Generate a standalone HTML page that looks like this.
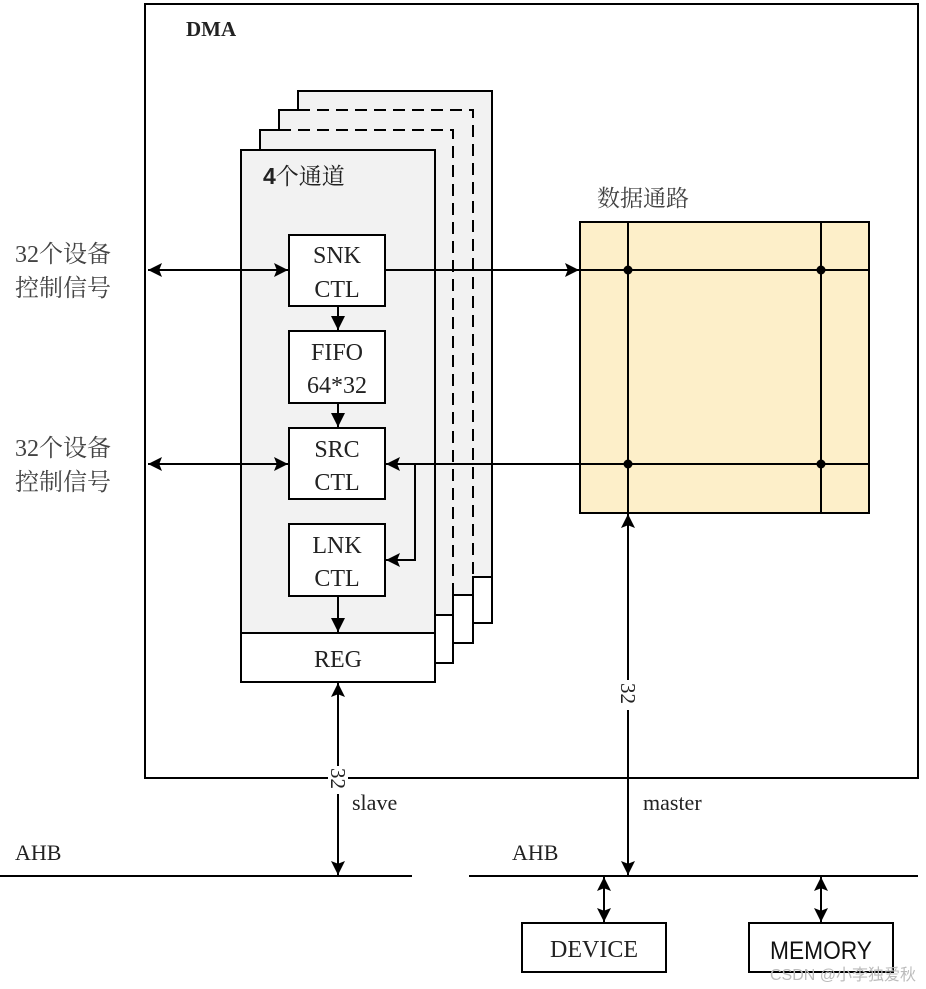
<!DOCTYPE html>
<html><head><meta charset="utf-8"><style>
html,body{margin:0;padding:0;background:#fff;width:926px;height:989px;overflow:hidden}
svg{display:block}
.s{font-family:"Liberation Serif","Noto Serif CJK SC",serif;fill:#222}
.c{font-family:"Liberation Serif","Noto Serif CJK SC",serif;fill:#444}
</style></head><body>
<svg width="926" height="989" viewBox="0 0 926 989" xmlns="http://www.w3.org/2000/svg">
<defs>
<marker id="a" viewBox="0 0 10 10" refX="10" refY="5" markerWidth="14" markerHeight="14" markerUnits="userSpaceOnUse" orient="auto-start-reverse"><path d="M0,0 L10,5 L0,10 z" fill="#000"/></marker>
<marker id="b" viewBox="0 0 10 10" refX="10" refY="5" markerWidth="16" markerHeight="14" markerUnits="userSpaceOnUse" orient="auto-start-reverse"><path d="M0,0 L10,5 L0,10 L2,5 z" fill="#000"/></marker>
</defs>
<g stroke="#000" stroke-width="2" fill="none">
<rect x="145" y="4" width="773" height="774"/>
<rect x="298" y="91" width="194" height="532" fill="#f2f2f2" stroke="none"/>
<rect x="279" y="110" width="194" height="533" fill="#f2f2f2" stroke="none"/>
<rect x="260" y="130" width="193" height="533" fill="#f2f2f2" stroke="none"/>
<path d="M298,110 V91 H492 V623 H473"/>
<rect x="473" y="577" width="19" height="46" fill="#fff"/>
<path d="M279,130 V110 H298"/>
<path d="M298,110 H473 V577" stroke-dasharray="12,7"/>
<rect x="453" y="595" width="20" height="48" fill="#fff"/>
<path d="M260,150 V130 H279"/>
<path d="M279,130 H453 V595" stroke-dasharray="12,7"/>
<rect x="435" y="615" width="18" height="48" fill="#fff"/>
<rect x="241" y="150" width="194" height="483" fill="#f2f2f2"/>
<rect x="241" y="633" width="194" height="49" fill="#fff"/>
<rect x="289" y="235" width="96" height="71" fill="#fff"/>
<rect x="289" y="331" width="96" height="72" fill="#fff"/>
<rect x="289" y="428" width="96" height="71" fill="#fff"/>
<rect x="289" y="524" width="96" height="72" fill="#fff"/>
<rect x="580" y="222" width="289" height="291" fill="#fdefc9"/>
<line x1="628" y1="222" x2="628" y2="513"/>
<line x1="821" y1="222" x2="821" y2="513"/>
<line x1="580" y1="270" x2="869" y2="270"/>
<line x1="580" y1="464" x2="869" y2="464"/>
<line x1="148" y1="270" x2="288" y2="270" marker-start="url(#b)" marker-end="url(#b)"/>
<line x1="148" y1="464" x2="288" y2="464" marker-start="url(#b)" marker-end="url(#b)"/>
<line x1="385" y1="270" x2="579" y2="270" marker-end="url(#b)"/>
<line x1="580" y1="464" x2="386" y2="464" marker-end="url(#b)"/>
<path d="M415,464 V560 H386" marker-end="url(#b)"/>
<line x1="338" y1="306" x2="338" y2="330" marker-end="url(#a)"/>
<line x1="338" y1="403" x2="338" y2="427" marker-end="url(#a)"/>
<line x1="338" y1="596" x2="338" y2="632" marker-end="url(#a)"/>
<line x1="338" y1="683" x2="338" y2="875" marker-start="url(#b)" marker-end="url(#b)"/>
<line x1="628" y1="514" x2="628" y2="875" marker-start="url(#b)" marker-end="url(#b)"/>
<line x1="0" y1="876" x2="412" y2="876"/>
<line x1="469" y1="876" x2="918" y2="876"/>
<line x1="604" y1="877" x2="604" y2="922" marker-start="url(#b)" marker-end="url(#b)"/>
<line x1="821" y1="877" x2="821" y2="922" marker-start="url(#b)" marker-end="url(#b)"/>
<rect x="522" y="923" width="144" height="49" fill="#fff"/>
<rect x="749" y="923" width="144" height="49" fill="#fff"/>
</g>
<g fill="#000">
<circle cx="628" cy="270" r="4.5"/><circle cx="821" cy="270" r="4.5"/>
<circle cx="628" cy="464" r="4.5"/><circle cx="821" cy="464" r="4.5"/>
</g>
<rect x="328" y="766" width="20" height="28" fill="#fff"/>
<rect x="618" y="680" width="20" height="30" fill="#fff"/>
<g class="s" font-size="24" text-anchor="middle">
<text x="337" y="263">SNK</text><text x="337" y="297">CTL</text>
<text x="337" y="360">FIFO</text><text x="337" y="393">64*32</text>
<text x="337" y="457">SRC</text><text x="337" y="490">CTL</text>
<text x="337" y="553">LNK</text><text x="337" y="586">CTL</text>
<text x="338" y="667">REG</text>
</g>
<text class="s" x="186" y="36" font-size="21" font-weight="bold">DMA</text>
<text class="s" x="263" y="184" font-size="23"><tspan font-weight="bold" font-family="Liberation Sans">4</tspan>个通道</text>
<text class="c" x="597" y="206" font-size="23">数据通路</text>
<g class="c" font-size="24">
<text x="15" y="262">32个设备</text><text x="15" y="296">控制信号</text>
<text x="15" y="456">32个设备</text><text x="15" y="490">控制信号</text>
</g>
<g class="s" font-size="22">
<text x="352" y="810">slave</text>
<text x="643" y="810">master</text>
<text x="15" y="860">AHB</text>
<text x="512" y="860">AHB</text>
<text x="594" y="957" text-anchor="middle" font-size="24">DEVICE</text>
</g>
<text x="821" y="959" text-anchor="middle" font-family="Liberation Sans,sans-serif" font-size="25" fill="#111" textLength="102" lengthAdjust="spacingAndGlyphs">MEMORY</text>
<text class="s" font-size="21" transform="translate(331,768) rotate(90)">32</text>
<text class="s" font-size="21" transform="translate(621,683) rotate(90)">32</text>
<text x="770" y="980" font-family="Liberation Sans,'Noto Sans CJK SC',sans-serif" font-size="16" fill="#bbb">CSDN @小李独爱秋</text>
</svg>
</body></html>
